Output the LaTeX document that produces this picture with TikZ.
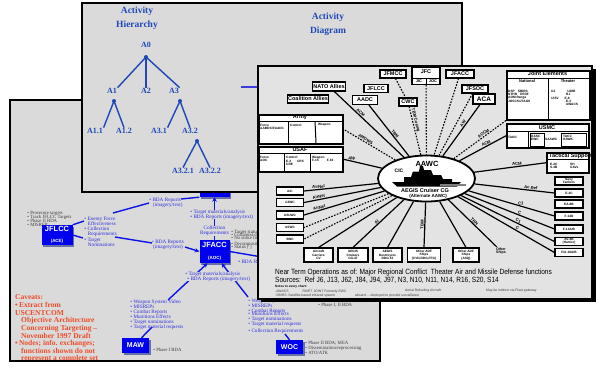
\documentclass[tikz,border=0pt]{standalone}
\usepackage{graphicx}
\usepackage{fontspec}
\setmainfont{Liberation Serif}
\newfontfamily\arialf{Liberation Sans}
\usetikzlibrary{arrows.meta,shapes.geometric,shadows}
\definecolor{panelgray}{HTML}{DADADA}
\definecolor{frontgray}{HTML}{E3E3E3}
\definecolor{hblue}{HTML}{1E48B8}
\definecolor{lblue}{HTML}{0A14E6}
\definecolor{tblue}{HTML}{2E30E0}
\definecolor{boxblue}{HTML}{0000EE}
\definecolor{shadowblue}{HTML}{6870A8}
\definecolor{cavred}{HTML}{F04A28}
\definecolor{dgtext}{HTML}{3C3C3C}
\definecolor{stubblue}{HTML}{3A3AE0}
\newcommand{\fsz}[1]{\fontsize{#1}{#1}\selectfont}
\begin{document}
\begin{tikzpicture}[x=1pt,y=-1pt,
  hlab/.style={font=\bfseries\fsz{8},text=hblue,inner sep=0.5pt},
  htitle/.style={font=\bfseries\fontsize{9.5}{14}\selectfont,text=hblue,align=center,inner sep=0pt},
  hline/.style={draw=hblue,line width=1.4pt},
  hdot/.style={circle,fill=hblue,inner sep=0pt,minimum size=4pt},
  bluebox/.style={fill=boxblue,text=white,inner sep=0pt,align=center,font=\arialf\bfseries,
     drop shadow={shadow xshift=1.8pt,shadow yshift=-1.8pt,fill=shadowblue,opacity=1}},
  blab/.style={text=tblue,font=\fontsize{5.2}{4.8}\selectfont,inner sep=0.2pt,anchor=west,align=left},
  clab/.style={blab,anchor=center,align=center},
  glab/.style={text=dgtext,font=\fontsize{4.8}{4.2}\selectfont,inner sep=0.2pt,anchor=west,align=left},
  bline/.style={draw=lblue,line width=1.4pt},
  barrow/.style={bline,-{Stealth[length=4.5pt,width=4.5pt]}},
  cav/.style={text=cavred,font=\bfseries\fontsize{7.5}{7.7}\selectfont,anchor=west,inner sep=0pt},
  fbox/.style={draw=black,line width=1.1pt,fill=white,inner sep=0.6pt,font=\arialf\bfseries\fsz{5.5},align=center},
  sbox/.style={fbox,font=\arialf\bfseries\fontsize{3.2}{3.2}\selectfont,minimum width=27pt,minimum height=8pt},
  gbox/.style={draw=black,line width=1.5pt,fill=white,inner sep=0pt},
  tinyt/.style={font=\arialf\bfseries\fontsize{3.2}{3.3}\selectfont,inner sep=0pt,align=left,anchor=west},
  ray/.style={line width=1.2pt},
  dray/.style={line width=1.1pt,dash pattern=on 1.6pt off 1.4pt},
  rlab/.style={font=\arialf\bfseries\fontsize{4.2}{4.2}\selectfont,inner sep=0.6pt},
]
\useasboundingbox (0,0) rectangle (596,368);
\fill[white] (0,0) rectangle (596,368);

%% ---------------- bottom panel (targeting) ----------------
\fill[panelgray] (10,100) rectangle (380,361);
\begin{scope}
\clip (10,100) rectangle (380,361);
\node[glab] (g1) at (27,213) {\textbullet\ Prosecute targets};
\node[glab] (g2) at (27,217) {\textbullet\ Track JFLCC Targets};
\node[glab] (g3) at (27,221) {\textbullet\ Phase II BDA};
\node[glab] (g4) at (27,225) {\textbullet\ MISREP};
\node[glab] (j1) at (231,232) {\textbullet\ Target status};
\node[glab] (j2) at (231,235) {\textbullet\ Collateral damage};
\node[glab] (j3) at (231,238) {\textbullet\ No strike list};
\node[glab] (j4) at (231,244) {\textbullet\ Decomposition};
\node[glab] (j5) at (231,247) {\textbullet\ Status [ ]};

\node[bluebox,minimum width=30pt,minimum height=24pt] (cinc) at (214.5,185) {};
\node[bluebox,minimum width=31pt,minimum height=20pt] (jflcc) at (57,235) {\fsz{7.5}JFLCC\\[-0.5pt]\fsz{4.5}(ACE)};
\node[bluebox,minimum width=30pt,minimum height=23pt] (jfacc) at (214.5,251.5) {\fsz{7.5}JFACC\\[-0.5pt]\fsz{4.5}(AOC)};
\node[bluebox,minimum width=27pt,minimum height=15pt] (maw) at (135.5,345.5) {\fsz{7}MAW};
\node[bluebox,minimum width=27pt,minimum height=14pt] (woc) at (289.5,347) {\fsz{7}WOC};

\coordinate (efe) at (84,221);
\coordinate (tn) at (83,238);
\coordinate (efe2) at (113,213);
\coordinate (bda1) at (149,203);
\coordinate (bda1e) at (181,199);
\coordinate (tn2) at (115,237);
\coordinate (bda2) at (152,243);
\coordinate (bda2e) at (185,247);
\coordinate (bdaI) at (262,257);
\coordinate (mawtop) at (168,300);
\coordinate (woctop) at (248,297);
\coordinate (mawlab) at (152,327);
\coordinate (woclab) at (285,334);

\draw[bline] (jflcc.north east) -- (efe);
\draw[bline] (jflcc.east) -- (tn);
\draw[bline] (efe2) -- (bda1);
\draw[bline] (bda1e) -- (cinc.south west);
\draw[bline] (tn2) -- (bda2);
\draw[barrow] (bda2e) -- (jfacc.west);
\draw[barrow] (jfacc.north) -- (cinc.south);
\draw[bline] (jfacc.east) -- (bdaI);
\draw[barrow] (mawtop) -- ([xshift=-7pt]jfacc.south);
\draw[barrow] (woctop) -- ([xshift=7pt]jfacc.south);
\draw[bline] ([xshift=6pt]maw.north) -- (mawlab);
\draw[bline] (woclab) -- (woc.north);

\node[blab] (l1) at (84,221) {\textbullet\ Enemy Force\\\hspace*{3.5pt}Effectiveness};
\node[blab] (l2) at (84,232) {\textbullet\ Collection\\\hspace*{3.5pt}Requirements};
\node[blab] (l3) at (84,242.5) {\textbullet\ Target\\\hspace*{3.5pt}Nominations};
\node[blab] (l4) at (149,202.5) {\textbullet\ BDA Reports\\\hspace*{3.5pt}(imagery/text)};
\node[clab] (l5) at (168,244.5) {\textbullet\ BDA Reports\\(imagery/text)};
\node[blab,fill=panelgray] (l6) at (190,214.5) {\textbullet\ Target materials/analysis\\\textbullet\ BDA Reports (imagery/text)};
\node[clab,fill=panelgray] (l7) at (214.5,231) {Collection\\Requirements};
\node[blab,fill=panelgray] (l8) at (185,276.5) {\textbullet\ Target materials/analysis\\\hspace*{2pt}\textbullet\ BDA Reports (imagery/text)};
\node[blab] (l9) at (238,262) {\textbullet\ BDA Reports};

\node[blab] (m1) at (130,304) {\textbullet\ Weapon System Video\\\textbullet\ MISREPs};
\node[blab] (m2) at (130,314.5) {\textbullet\ Combat Reports\\\textbullet\ Munitions Effects};
\node[blab] (m3) at (130,325) {\textbullet\ Target nominations\\\textbullet\ Target material requests};
\node[glab] (m4) at (153,350) {\textbullet\ Phase I BDA};

\node[blab] (w1) at (248,301) {\textbullet\ Weapon System Video};
\node[blab] (w2) at (248,309) {\textbullet\ MISREPs\\\textbullet\ Combat Reports};
\node[blab] (w3) at (248,319.5) {\textbullet\ Munitions Effects\\\textbullet\ Target nominations\\\textbullet\ Target material requests};
\node[blab] (w4) at (248,331.5) {\textbullet\ Collection Requirements};
\node[glab] (w5) at (305,348) {\textbullet\ Phase II BDA; MEA\\\textbullet\ Dissemination/reprocessing\\\textbullet\ ATO/ATK};
\node[glab] (w6) at (318,305) {\textbullet\ Phase I, II BDA};

\node[cav] (c1) at (15,297) {Caveats:};
\node[cav] (c2) at (15,305) {\textbullet\,Extract from};
\node[cav] (c3) at (15,313) {USCENTCOM};
\node[cav] (c4) at (21,320.5) {Objective Architecture};
\node[cav] (c5) at (21,328.5) {Concerning Targeting --};
\node[cav] (c6) at (21,336) {November 1997 Draft};
\node[cav] (c7) at (15,343.5) {\textbullet\,Nodes; info. exchanges;};
\node[cav] (c8) at (21,351) {functions shown do not};
\node[cav] (c9) at (21,359) {represent a complete set};
\end{scope}
\draw[line width=1.6pt] (10,100) rectangle (380,361);

%% ---------------- hierarchy panel ----------------
\fill[panelgray] (82,3) rectangle (462,192);
\draw[line width=1.6pt] (82,3) rectangle (462,192);
\node[htitle] (ht) at (137,18) {Activity\\Hierarchy};
\node[htitle] (dt) at (328,24) {Activity\\Diagram};

\node[hlab] (A0) at (146,45) {A0};
\node[hdot] (d0) at (146,57) {};
\node[hlab] (A1) at (112,91) {A1};
\node[hlab] (A2) at (146,91) {A2};
\node[hlab] (A3) at (174,91) {A3};
\node[hdot] (d1) at (114,101) {};
\node[hdot] (d3) at (180,101) {};
\node[hlab] (A11) at (95,131) {A1.1};
\node[hlab] (A12) at (124,131) {A1.2};
\node[hlab] (A31) at (159,131) {A3.1};
\node[hlab] (A32) at (190,131) {A3.2};
\node[hdot] (d32) at (197,141) {};
\node[hlab] (A321) at (183,171) {A3.2.1};
\node[hlab] (A322) at (210,171) {A3.2.2};
\draw[hline] (d0.center) -- (A1.north east);
\draw[hline] (d0.center) -- (A2.north);
\draw[hline] (d0.center) -- (A3.north east);
\draw[hline] (d1.center) -- (A11.north east);
\draw[hline] (d1.center) -- (A12.north);
\draw[hline] (d3.center) -- (A31.north east);
\draw[hline] (d3.center) -- (A32.north);
\draw[hline] (d32.center) -- (A321.north);
\draw[hline] (d32.center) -- (A322.north);

\coordinate (stubA) at (241,87);
\coordinate (stubB) at (258,87);
\draw[draw=stubblue,line width=1.5pt] (stubA) -- (stubB);

%% ---------------- front panel (activity diagram) ----------------
\fill[black] (261,69) rectangle (595.5,302);
\fill[frontgray] (258,66) rectangle (592,299);
\draw[line width=2.5pt] (258,66) rectangle (592,299);

\node[ellipse,draw,line width=1.8pt,fill=white,minimum width=97pt,minimum height=46pt,inner sep=0pt] (aawc) at (426.5,178.5) {};

\node[fbox,minimum height=9pt] (nato) at (329,86.5) {NATO Allies};
\node[fbox,minimum height=8pt] (coal) at (308,99) {Coalition Allies};
\node[fbox,minimum width=26pt,minimum height=8pt] (jfmcc) at (393,74) {JFMCC};
\node[fbox,minimum width=28pt,minimum height=17pt] (jfc) at (426,76) {};
\node[fbox,minimum width=28pt,minimum height=8pt] (jfacct) at (460,74) {JFACC};
\node[fbox,minimum width=24pt,minimum height=8pt] (jflcct) at (376,88.5) {JFLCC};
\node[fbox,minimum width=26pt,minimum height=8pt] (jfsoc) at (475,89) {JFSOC};
\node[fbox,minimum width=25pt,minimum height=9pt] (aadc) at (365,100) {AADC};
\node[fbox,minimum width=18pt,minimum height=8pt] (cwc) at (408,102) {CWC};
\node[fbox,minimum width=22pt,minimum height=10pt,font=\arialf\bfseries\fsz{6.5}] (aca) at (484,99) {ACA};
\node[font=\arialf\bfseries\fsz{5.5},inner sep=0pt] (jfct) at (426,71.5) {JFC};
\draw[line width=0.8pt] (412,78.5) -- (440,78.5);
\draw[line width=0.8pt] (426,78.5) -- (426,84.5);
\node[font=\arialf\bfseries\fsz{4},inner sep=0pt] (jict) at (419,81.5) {JIC};
\node[font=\arialf\bfseries\fsz{4},inner sep=0pt] (joct) at (433,81.5) {JOC};

% Joint Elements
\node[gbox,minimum width=83pt,minimum height=49pt,anchor=north west] (joint) at (506,70) {};
\node[font=\arialf\bfseries\fsz{5.5},inner sep=0pt] (jointt) at (547.5,74) {Joint Elements};
\draw[line width=1pt] (506,78) -- (589,78);
\draw[line width=1pt] (548,78) -- (548,119);
\node[font=\arialf\bfseries\fsz{4},inner sep=0pt] (natt) at (527,81.5) {National};
\node[font=\arialf\bfseries\fsz{4},inner sep=0pt] (thet) at (568,81.5) {Theater};
\node[tinyt] (jn1) at (508,96) {DSP\quad SBIRS\\NTHR\quad RFDF\\AOM Range\\JOSCS/JTAGS};
\node[tinyt] (jt1) at (551,98) {U2\hspace{12pt}U28R\\\hspace{15pt}RJ\\135V\hspace{6pt}E-8\\\hspace{15pt}E-3\\\hspace{15pt}AWACS};

% USMC
\node[gbox,minimum width=82pt,minimum height=24pt,anchor=north west] (usmc) at (506,123) {};
\node[font=\arialf\bfseries\fsz{5.5},inner sep=0pt] (usmct) at (547,127.5) {USMC};
\draw[line width=1pt] (506,131.5) -- (588,131.5);
\draw[line width=0.9pt] (528,131.5) -- (528,147);
\draw[line width=0.9pt] (530,133) rectangle (544,146);
\draw[line width=0.9pt] (561,133) rectangle (586,146);
\node[tinyt] (um1) at (508,137) {TAOC};
\node[tinyt] (um2) at (531,138) {DASC\\EWC};
\node[tinyt] (um3) at (545,139) {SAAWC};
\node[tinyt] (um4) at (563,138) {TACC\\HAWK};

% Tactical Support
\node[gbox,minimum width=42pt,minimum height=20pt,anchor=north west] (tact) at (546,152) {};
\node[font=\arialf\bfseries\fsz{5.5},inner sep=0pt,anchor=west] (tactt) at (549,156) {Tactical Support};
\draw[line width=1pt] (546,159.5) -- (588,159.5);
\node[tinyt] (ts1) at (550,166) {E-2C\\S-3B};
\node[tinyt] (ts2) at (570,166) {SH\\UAVs};

% Army
\node[gbox,minimum width=84pt,minimum height=29pt,anchor=north west] (army) at (258,114) {};
\node[font=\arialf\bfseries\fsz{5.5},inner sep=0pt] (armyt) at (300,117.5) {Army};
\draw[line width=1pt] (258,121) -- (342,121);
\draw[line width=1pt] (288,121) -- (288,143);
\draw[line width=1pt] (315,121) -- (316,143);
\node[tinyt] (ar1) at (260,127) {Force\\AAMDC/FAADC};
\node[tinyt] (ar2) at (290,125) {Control};
\node[tinyt] (ar3) at (318,125) {Weapon};

% USAF
\node[gbox,minimum width=84pt,minimum height=25pt,anchor=north west] (usaf) at (258,146) {};
\node[font=\arialf\bfseries\fsz{5.5},inner sep=0pt] (usaft) at (300,149.5) {USAF};
\draw[line width=1pt] (258,153) -- (342,153);
\draw[line width=1pt] (284,153) -- (284,171);
\draw[line width=1pt] (310,153) -- (310,171);
\node[tinyt] (uf1) at (260,159) {Force\\AOC};
\node[tinyt] (uf2) at (286,161) {Control\\E-3\hspace{6pt}CRC\\CRE};
\node[tinyt] (uf3) at (312,159) {Weapon\\F-15\hspace{8pt}F-16};

% left boxes
\node[sbox] (aic) at (290,191) {AIC};
\node[sbox] (c2wc) at (290,202.5) {C2WC};
\node[sbox] (asuwc) at (290,215) {ASUWC};
\node[sbox] (aswc) at (290,227.5) {ASWC};
\node[sbox] (swc) at (290,239) {SWC};

% bottom boxes
\node[sbox,minimum width=29pt,minimum height=14pt] (cv) at (318.5,255) {Aircraft\\Carriers\\CV};
\node[sbox,minimum width=30pt,minimum height=14pt] (cg) at (353,255) {AEGIS\\Cruisers\\CG-47};
\node[sbox,minimum width=29pt,minimum height=14pt] (ddg) at (387.5,255) {AEGIS\\Destroyers\\DDG-51};
\node[sbox,minimum width=33pt,minimum height=14pt] (adf1) at (424,255) {Other ADF\\Ships\\(CVN,DDG,FFG)};
\node[sbox,minimum width=26pt,minimum height=14pt] (adf2) at (466,255) {Other ADF\\Ships\\(ASQ)};
\node[font=\arialf\bfseries\fontsize{3.6}{3.6}\selectfont,inner sep=0.5pt,align=center] (othr) at (501,251) {Other\\Ships};

% right boxes
\node[sbox,minimum width=28pt] (tank) at (569,181) {Navy\\Tankers};
\node[sbox,minimum width=28pt] (e2c) at (569,193) {E-2C};
\node[sbox,minimum width=28pt] (ea6b) at (569,204) {EA-6B};
\node[sbox,minimum width=28pt] (f14d) at (569,216) {F-14D};
\node[sbox,minimum width=28pt] (f14ab) at (569,229) {F-14A/B};
\node[sbox,minimum width=28pt] (av8b) at (569,241.5) {AV-8B\\(Harrier)};
\node[sbox,minimum width=28pt] (fa18) at (569,252.5) {F/A-18A/B};

% rays
\draw[ray] (aawc) -- node[rlab,sloped,above,pos=.65] {ACM} (nato);
\draw[ray] (aawc) -- node[rlab,sloped,above,pos=.4] {TBM} (aadc);
\draw[ray] (aawc) -- node[rlab,sloped,above,pos=.6] {AW} (aca);
\draw[ray] (aawc) -- node[rlab,sloped,above,pos=.6] {ACM} (usmc.west);
\draw[ray] (aawc) -- node[rlab,sloped,above,pos=.6] {ACM} (tact.west);
\draw[ray] (aawc) -- node[rlab,sloped,above,pos=.7] {Ac Ref} (e2c.west);
\draw[ray] (aawc) -- node[rlab,sloped,above,pos=.6] {C1} (f14d.west);
\draw[ray] (aawc) -- node[rlab,sloped,above,pos=.6] {C} (f14ab.west);
\draw[ray] (aawc) -- node[rlab,sloped,above,pos=.6] {C1} (av8b.west);
\draw[ray] (aawc) -- node[rlab,sloped,above,pos=.6] {C} (fa18.west);
\draw[ray] (aawc) -- node[rlab,sloped,above,pos=.5] {TBN} (othr);
\draw[ray] (aawc) -- (adf2.north);
\draw[ray] (aawc) -- node[rlab,sloped,above,pos=.5] {TBM} (adf1.north);
\draw[ray] (aawc) -- (ddg.north);
\draw[ray] (aawc) -- node[rlab,sloped,above,pos=.5] {AI} (cg.north);
\draw[ray] (aawc) -- (cv.north);
\draw[ray] (aawc) -- node[rlab,sloped,above,pos=.8] {AirNet} (aic.east);
\draw[ray] (aawc) -- node[rlab,sloped,above,pos=.8] {AirNet} (c2wc.east);
\draw[ray] (aawc) -- node[rlab,sloped,above,pos=.8] {AirNet} (asuwc.east);
\draw[ray] (aawc) -- node[rlab,sloped,above,pos=.8] {AW} (usaf.east);
\draw[dray] (aawc) -- node[rlab,sloped,above,pos=.6] {AMDWS} (army.east);
\draw[dray] (aawc) -- (aswc.east);
\draw[dray] (aawc) -- (swc.east);
\draw[dray] (jfmcc) -- (cwc);
\draw[dray] (cwc) -- node[rlab,sloped,above,pos=.3] {TBM Cueing} (aawc);
\draw[dray] (jfc) -- (aawc);
\draw[dray] (jfacct) -- (aawc);
\draw[dray] (jfsoc) -- (aawc);
\draw[dray] (aawc) -- node[rlab,sloped,above,pos=.6] {AOCM} (joint.south west);

% ship in ellipse
\fill[black] (392,182) -- (461,182) -- (457,186.5) -- (397,186.5) -- cycle;
\fill[black] (404,182) -- (404,177) -- (411,177) -- (413,171.5) -- (419,171.5) -- (420,166) -- (423,166) -- (424,170) -- (431,170) -- (433,175) -- (441,175) -- (443,179) -- (452,179) -- (452,182) -- cycle;
\fill[gray] (440,183.5) rectangle (466,186);
\node[font=\arialf\bfseries\fsz{7.5},inner sep=0pt] (aawct) at (427,163.5) {AAWC};
\node[font=\arialf\bfseries\fsz{5},inner sep=0pt] (cict) at (399,170.5) {CIC};
\node[font=\arialf\bfseries\fsz{5.5},inner sep=0pt] (aegt) at (425,190.5) {AEGIS Cruiser CG};
\node[font=\arialf\bfseries\fsz{4.5},inner sep=0pt] (altt) at (428,196.5) {(Alternate AAWC)};

% bottom texts
\node[anchor=west,inner sep=0pt,font=\arialf\fontsize{7.6}{7.6}\selectfont] (nt1) at (275,273) {\scalebox{0.86}[1]{Near Term Operations as of: Major Regional Conflict \ Theater Air and Missile Defense functions}};
\node[anchor=west,inner sep=0pt,font=\arialf\fontsize{7.6}{7.6}\selectfont] (nt2) at (275,280) {\scalebox{0.86}[1]{Sources:\ \ Ref J6, J13, J62, J84, J94, J97, N3, N10, N11, N14, R16, S20, S14}};
\node[tinyt] (nt3) at (275,286.5) {Notes to every chart:};
\node[tinyt,text=dgtext,font=\arialf\fontsize{3.4}{3.4}\selectfont] (nt4) at (275,291.5) {-AWACS\hspace{14pt}RIVET JOINT Formerly EWC};
\node[tinyt,text=dgtext,font=\arialf\fontsize{3.4}{3.4}\selectfont] (nt5) at (275,295.5) {-SBIRS: Satellite-based infrared system\hspace{20pt}aboard ... deployed to provide surveillance};
\node[tinyt,text=dgtext,font=\arialf\fontsize{3.4}{3.4}\selectfont] (nt6) at (405,291) {Aerial Refueling Aircraft};
\node[tinyt,text=dgtext,font=\arialf\fontsize{3.4}{3.4}\selectfont] (nt7) at (486,290.5) {May be indirect via Fleet gateway};
\end{tikzpicture}
\end{document}
